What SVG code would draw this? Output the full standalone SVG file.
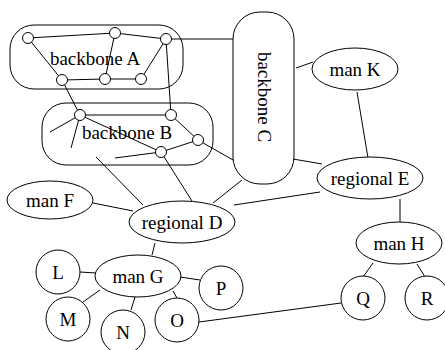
<svg xmlns="http://www.w3.org/2000/svg" width="445" height="350" viewBox="0 0 445 350">
<style>
.s{fill:#fff;stroke:#000;stroke-width:1}
.n{fill:#fff;stroke:#000;stroke-width:1}
.l{stroke:#000;stroke-width:1;fill:none}
text{font-family:"Liberation Serif","Times New Roman",serif;font-size:19px;fill:#000;text-anchor:middle;dominant-baseline:central}
</style>
<rect width="445" height="350" fill="#fff"/>
<g id="backboneA"><rect class="s" x="10" y="25" width="173" height="64" rx="24" ry="24"/></g>
<g id="backboneB"><rect class="s" x="42" y="103" width="171" height="62" rx="24" ry="24"/></g>
<g id="backboneC"><rect class="s" x="233" y="12" width="61" height="172" rx="27" ry="27"/><text transform="translate(264,97) rotate(90)">backbone C</text></g>
<g id="connectors">
<line class="l" x1="28" y1="38" x2="115" y2="33"/>
<line class="l" x1="115" y1="33" x2="166" y2="39"/>
<line class="l" x1="28" y1="38" x2="62" y2="80"/>
<line class="l" x1="115" y1="33" x2="105" y2="79"/>
<line class="l" x1="62" y1="80" x2="105" y2="79"/>
<line class="l" x1="105" y1="79" x2="141" y2="79"/>
<line class="l" x1="141" y1="79" x2="166" y2="39"/>
<line class="l" x1="166" y1="39" x2="233" y2="39"/>
<line class="l" x1="166" y1="39" x2="171" y2="115"/>
<line class="l" x1="62" y1="80" x2="80" y2="115"/>
<line class="l" x1="80" y1="115" x2="171" y2="115"/>
<line class="l" x1="171" y1="115" x2="198" y2="140"/>
<line class="l" x1="198" y1="140" x2="161" y2="152"/>
<line class="l" x1="80" y1="115" x2="161" y2="152"/>
<line class="l" x1="80" y1="115" x2="50" y2="132"/>
<line class="l" x1="80" y1="115" x2="71" y2="148"/>
<line class="l" x1="161" y1="152" x2="115" y2="158"/>
<line class="l" x1="198" y1="140" x2="233" y2="160"/>
<line class="l" x1="96" y1="157" x2="143" y2="205"/>
<line class="l" x1="161" y1="152" x2="192" y2="201"/>
<line class="l" x1="213" y1="203" x2="242" y2="180"/>
<line class="l" x1="296" y1="68" x2="313" y2="62"/>
<line class="l" x1="357" y1="92" x2="368" y2="158"/>
<line class="l" x1="293" y1="159" x2="322" y2="164"/>
<line class="l" x1="234" y1="205" x2="320" y2="192"/>
<line class="l" x1="400" y1="199" x2="400" y2="222"/>
<line class="l" x1="373" y1="263" x2="363" y2="277"/>
<line class="l" x1="417" y1="264" x2="425" y2="277"/>
<line class="l" x1="199" y1="322" x2="341" y2="303"/>
<line class="l" x1="93" y1="203" x2="133" y2="211"/>
<line class="l" x1="155" y1="243" x2="152" y2="255"/>
<line class="l" x1="80" y1="272" x2="96" y2="273"/>
<line class="l" x1="83" y1="302" x2="100" y2="290"/>
<line class="l" x1="131" y1="310" x2="135" y2="297"/>
<line class="l" x1="177" y1="298" x2="173" y2="291"/>
<line class="l" x1="180" y1="277" x2="200" y2="280"/>
</g>
<g id="bbA_nodes">
<circle class="n" cx="28" cy="38" r="5.5"/>
<circle class="n" cx="115" cy="33" r="5.5"/>
<circle class="n" cx="166" cy="39" r="5.5"/>
<circle class="n" cx="62" cy="80" r="5.5"/>
<circle class="n" cx="105" cy="79" r="5.5"/>
<circle class="n" cx="141" cy="79" r="5.5"/>
</g>
<g id="bbB_nodes">
<circle class="n" cx="80" cy="115" r="5.5"/>
<circle class="n" cx="171" cy="115" r="5.5"/>
<circle class="n" cx="198" cy="140" r="5.5"/>
<circle class="n" cx="161" cy="152" r="5.5"/>
</g>
<g id="labelA"><text x="95" y="58">backbone A</text></g>
<g id="labelB"><text x="127" y="132">backbone B</text></g>
<g id="manK"><ellipse class="n" cx="355" cy="69" rx="43" ry="21"/><text x="355" y="69">man K</text></g>
<g id="regionalE"><ellipse class="n" cx="370" cy="178" rx="53" ry="21"/><text x="370" y="178">regional E</text></g>
<g id="manF"><ellipse class="n" cx="50" cy="200" rx="43" ry="19"/><text x="50" y="200">man F</text></g>
<g id="regionalD"><ellipse class="n" cx="182" cy="222" rx="53" ry="21"/><text x="182" y="222">regional D</text></g>
<g id="manH"><ellipse class="n" cx="399" cy="243" rx="43" ry="21"/><text x="399" y="243">man H</text></g>
<g id="manG"><ellipse class="n" cx="138" cy="276" rx="43" ry="21"/><text x="138" y="276">man G</text></g>
<g id="L"><circle class="n" cx="58" cy="272" r="22"/><text x="58" y="272">L</text></g>
<g id="M"><circle class="n" cx="68" cy="319" r="22"/><text x="68" y="319">M</text></g>
<g id="N"><circle class="n" cx="123" cy="332" r="22"/><text x="123" y="332">N</text></g>
<g id="O"><circle class="n" cx="177" cy="320" r="22"/><text x="177" y="320">O</text></g>
<g id="P"><circle class="n" cx="221" cy="288" r="22"/><text x="221" y="288">P</text></g>
<g id="Q"><circle class="n" cx="363" cy="298" r="22"/><text x="363" y="298">Q</text></g>
<g id="R"><circle class="n" cx="427" cy="298" r="22"/><text x="427" y="298">R</text></g>
</svg>
